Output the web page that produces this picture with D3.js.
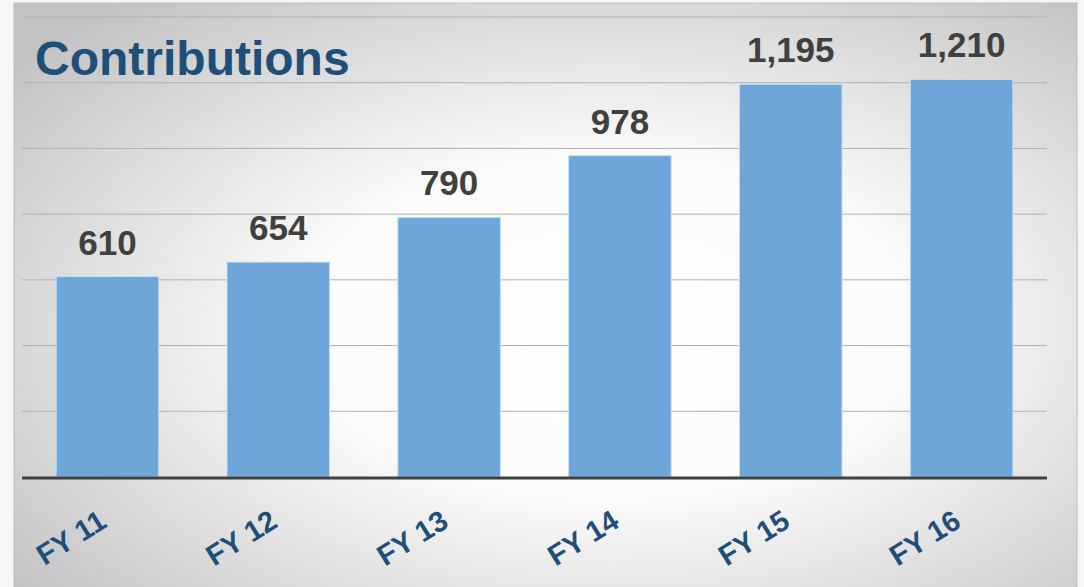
<!DOCTYPE html>
<html>
<head>
<meta charset="utf-8">
<script src="https://cdn.jsdelivr.net/npm/d3@7"></script>
<style>
  body { margin: 0; background: #f6f6f6; }
  svg { display: block; }
</style>
</head>
<body>
<svg id="chart"></svg>
<script>
const categories = ["FY 11", "FY 12", "FY 13", "FY 14", "FY 15", "FY 16"];
const values = [610, 654, 790, 978, 1195, 1210];
const gridTicks = [200, 400, 600, 800, 1000, 1200, 1400];

const width = 1084, height = 587;
const svg = d3.select("#chart").attr("width", width).attr("height", height);

// background panel with soft radial shading
const defs = svg.append("defs");
const grad = defs.append("radialGradient")
    .attr("id", "bg")
    .attr("cx", "0.56").attr("cy", "0.55").attr("r", "0.72");
grad.append("stop").attr("offset", "0").attr("stop-color", "#ffffff");
grad.append("stop").attr("offset", "0.4").attr("stop-color", "#fbfbfb");
grad.append("stop").attr("offset", "1").attr("stop-color", "#c2c2c2");

svg.append("rect").attr("x", 0).attr("y", 0).attr("width", width).attr("height", height).attr("fill", "#f6f6f6");
svg.append("rect")
    .attr("x", 14).attr("y", 3)
    .attr("width", 1063).attr("height", 590)
    .attr("fill", "url(#bg)")
    .attr("stroke", "#bdbdbd").attr("stroke-width", 1);

const margin = { left: 22, right: 37 };
const x = d3.scaleBand()
    .domain(categories)
    .range([margin.left, width - margin.right])
    .paddingInner(0.4)
    .paddingOuter(0.2);

const y = d3.scaleLinear()
    .domain([0, 1400])
    .range([477, 17]);

// gridlines
svg.append("g")
    .selectAll("line")
    .data(gridTicks)
    .join("line")
    .attr("x1", margin.left)
    .attr("x2", width - margin.right)
    .attr("y1", d => y(d))
    .attr("y2", d => y(d))
    .attr("stroke", "#b0b0b0")
    .attr("stroke-width", 1);

// bars
svg.append("g")
    .selectAll("rect")
    .data(values)
    .join("rect")
    .attr("x", (d, i) => x(categories[i]))
    .attr("y", d => y(d))
    .attr("width", x.bandwidth())
    .attr("height", d => y(0) - y(d))
    .attr("fill", "#6fa6da")
    .attr("stroke", "#c3daf1")
    .attr("stroke-width", 1);

// value labels
svg.append("g")
    .selectAll("text")
    .data(values)
    .join("text")
    .attr("x", (d, i) => x(categories[i]) + x.bandwidth() / 2)
    .attr("y", d => y(d) - 22)
    .attr("text-anchor", "middle")
    .attr("font-family", "Liberation Sans, Arial, sans-serif")
    .attr("font-weight", "bold")
    .attr("font-size", 35)
    .attr("fill", "#404040")
    .text(d => d3.format(",")(d));

// baseline axis
svg.append("line")
    .attr("x1", margin.left)
    .attr("x2", width - margin.right)
    .attr("y1", y(0) + 1)
    .attr("y2", y(0) + 1)
    .attr("stroke", "#404040")
    .attr("stroke-width", 3);

// category labels, rotated
svg.append("g")
    .selectAll("text")
    .data(categories)
    .join("text")
    .attr("transform", d => `translate(${x(d) + x.bandwidth() / 2 + 1},526) rotate(-32)`)
    .attr("text-anchor", "end")
    .attr("font-family", "Liberation Sans, Arial, sans-serif")
    .attr("font-weight", "bold")
    .attr("font-size", 29)
    .attr("fill", "#1f4e79")
    .text(d => d);

// title
svg.append("text")
    .attr("x", 35)
    .attr("y", 75)
    .attr("font-family", "Liberation Sans, Arial, sans-serif")
    .attr("font-weight", "bold")
    .attr("font-size", 48)
    .attr("fill", "#1f4e79")
    .text("Contributions");
</script>
</body>
</html>
